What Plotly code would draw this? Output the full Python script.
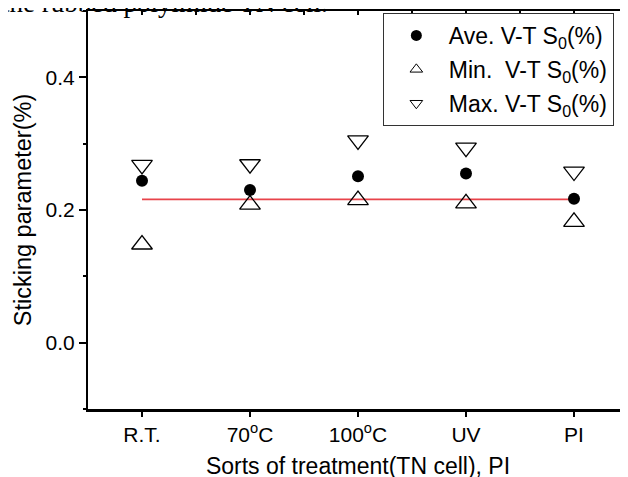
import plotly.graph_objects as go

categories = ["R.T.", "70<sup>o</sup>C", "100<sup>o</sup>C", "UV", "PI"]
cat_pos = [1, 2, 3, 4, 5]
ave_vals = [0.244, 0.230, 0.251, 0.255, 0.217]
min_vals = [0.148, 0.208, 0.215, 0.210, 0.182]
max_vals = [0.268, 0.269, 0.305, 0.294, 0.258]
ref_x = [1, 5]
ref_y = [0.216, 0.216]

FONT = "Liberation Sans, Arial, sans-serif"

fig = go.Figure()

fig.add_trace(go.Scatter(x=ref_x, y=ref_y, mode="lines",
                         line=dict(color="#e8434a", width=1.6), showlegend=False))
fig.add_trace(go.Scatter(x=cat_pos, y=ave_vals, mode="markers", showlegend=False,
                         marker=dict(symbol="circle", size=12, color="black")))
fig.add_trace(go.Scatter(x=cat_pos, y=min_vals, mode="markers", showlegend=False,
                         marker=dict(symbol="triangle-up-open", size=18, color="black",
                                     line=dict(width=1.3, color="black"))))
fig.add_trace(go.Scatter(x=cat_pos, y=max_vals, mode="markers", showlegend=False,
                         marker=dict(symbol="triangle-down-open", size=18, color="black",
                                     line=dict(width=1.3, color="black"))))

# legend entries (smaller symbols as in the reference)
fig.add_trace(go.Scatter(x=[None], y=[None], mode="markers", name="Ave. V-T S<sub>0</sub>(%)",
                         legendgroup="a", marker=dict(symbol="circle", size=11, color="black")))
fig.add_trace(go.Scatter(x=[None], y=[None], mode="markers", name="Min.&nbsp; V-T S<sub>0</sub>(%)",
                         legendgroup="b", marker=dict(symbol="triangle-up-open", size=11, color="black",
                                                      line=dict(width=1, color="black"))))
fig.add_trace(go.Scatter(x=[None], y=[None], mode="markers", name="Max. V-T S<sub>0</sub>(%)",
                         legendgroup="c", marker=dict(symbol="triangle-down-open", size=11, color="black",
                                                      line=dict(width=1, color="black"))))

# top axis with inward ticks
fig.add_trace(go.Scatter(x=[None], y=[None], xaxis="x2", showlegend=False))

fig.update_layout(
    width=628, height=477,
    margin=dict(l=80, r=8, t=3, b=76, autoexpand=False),
    paper_bgcolor="white", plot_bgcolor="white",
    font=dict(family=FONT, size=19, color="black"),
    xaxis=dict(range=[0.5, 5.5], tickvals=cat_pos, ticktext=categories, automargin=False,
               showgrid=False, zeroline=False, showline=True, linecolor="black", linewidth=2.5,
               ticks="outside", ticklen=5, tickwidth=1.5, tickcolor="black",
               title=dict(text="Sorts of treatment(TN cell), PI", standoff=13,
                          font=dict(size=23)),
               tickfont=dict(size=21)),
    xaxis2=dict(range=[0.5, 5.5], overlaying="x", side="top", dtick=0.5, tick0=0.5,
                showticklabels=False, showgrid=False, zeroline=False, showline=True,
                automargin=False,
                linecolor="black", linewidth=2, ticks="inside", ticklen=4, tickwidth=1.5,
                tickcolor="black"),
    yaxis=dict(range=[-0.1, 0.5], tickvals=[0.0, 0.2, 0.4], tickformat=".1f", automargin=False,
               showgrid=False, zeroline=False, showline=True, linecolor="black", linewidth=2,
               ticks="outside", ticklen=7, tickwidth=1.5, tickcolor="black",
               minor=dict(dtick=0.1, tick0=0, ticks="outside", ticklen=3, tickwidth=1.5,
                          tickcolor="black"),
               title=dict(text="Sticking parameter(%)", standoff=7, font=dict(size=23.5)),
               tickfont=dict(size=21)),
    legend=dict(x=0.546, y=0.995, xanchor="left", yanchor="top",
                bordercolor="#333333", borderwidth=1, bgcolor="white",
                font=dict(family=FONT, size=23), tracegroupgap=1,
                traceorder="grouped", itemwidth=55),
    showlegend=True,
)

fig.add_annotation(text="the rubbed polyimide TN cell.", xref="paper", yref="paper",
                   x=-88 / 540, y=1.0, xanchor="left", yanchor="bottom", yshift=-9,
                   showarrow=False, font=dict(family="Liberation Serif, Times New Roman, serif",
                                              size=27, color="black"))

fig.write_html("out.html")
